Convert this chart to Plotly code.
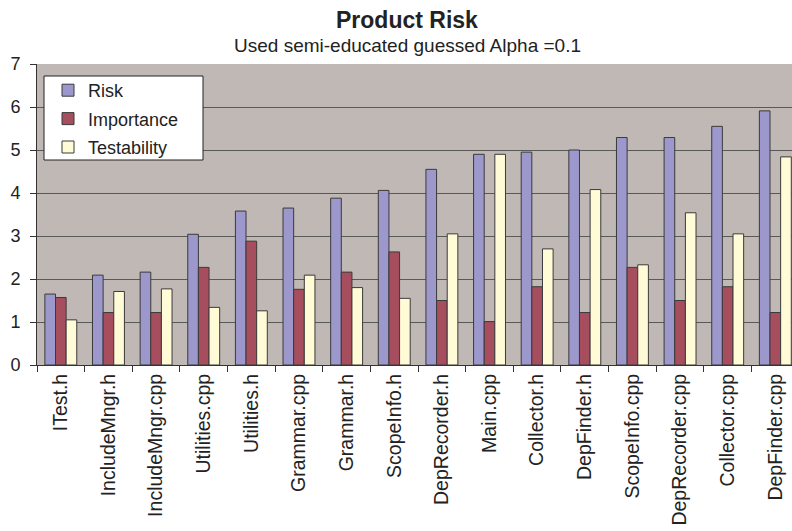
import plotly.graph_objects as go

categories = ["ITest.h", "IncludeMngr.h", "IncludeMngr.cpp", "Utilities.cpp", "Utilities.h",
              "Grammar.cpp", "Grammar.h", "ScopeInfo.h", "DepRecorder.h", "Main.cpp",
              "Collector.h", "DepFinder.h", "ScopeInfo.cpp", "DepRecorder.cpp",
              "Collector.cpp", "DepFinder.cpp"]
risk = [1.65, 2.09, 2.16, 3.04, 3.58, 3.65, 3.88, 4.06, 4.55, 4.90, 4.95, 5.00, 5.29, 5.29, 5.55, 5.91]
importance = [1.57, 1.22, 1.22, 2.27, 2.88, 1.76, 2.16, 2.63, 1.50, 1.01, 1.82, 1.22, 2.27, 1.50, 1.82, 1.22]
testability = [1.05, 1.71, 1.77, 1.34, 1.26, 2.09, 1.80, 1.55, 3.05, 4.90, 2.70, 4.08, 2.33, 3.54, 3.05, 4.84]
y_ticks = [0, 1, 2, 3, 4, 5, 6, 7]

title_text = "Product Risk"
subtitle_text = "Used semi-educated guessed Alpha =0.1"

font_family = "Liberation Sans, Arial, sans-serif"
outline = dict(color="#3a3a3a", width=1)

# plot area spans x 37..792, y 64..365 on screen (body margin removed below)
W, H = 792, 531
ML, MT = 37, 64
PLOT_W, PLOT_H = W - ML, 301
MB = H - MT - PLOT_H


def px_x(sx):
    return (sx - ML) / PLOT_W


def px_y(sy):
    return (MT + PLOT_H - sy) / PLOT_H


fig = go.Figure()
fig.add_trace(go.Bar(name="Risk", x=categories, y=risk, legendgroup="a",
                     marker=dict(color="#9C98CB", line=outline)))
fig.add_trace(go.Bar(name="Importance", x=categories, y=importance, legendgroup="b",
                     marker=dict(color="#A64E5E", line=outline)))
fig.add_trace(go.Bar(name="Testability", x=categories, y=testability, legendgroup="c",
                     marker=dict(color="#FFFBD6", line=outline)))

fig.update_layout(
    width=W, height=H,
    margin=dict(l=ML, r=0, t=MT, b=MB, autoexpand=False),
    paper_bgcolor="white",
    plot_bgcolor="#C0B8B5",
    barmode="group",
    bargap=0.33,
    bargroupgap=0,
    font=dict(family=font_family, color="#222222"),
    showlegend=True,
    legend=dict(
        x=px_x(48), y=px_y(72), xanchor="left", yanchor="top",
        bgcolor="rgba(0,0,0,0)", borderwidth=0,
        font=dict(size=18, family=font_family, color="#222222"),
        itemwidth=30, tracegroupgap=2,
    ),
    shapes=[dict(type="rect", xref="paper", yref="paper",
                 x0=px_x(44), x1=px_x(203), y0=px_y(160), y1=px_y(76),
                 fillcolor="white", line=dict(color="#222222", width=1), layer="above")],
    xaxis=dict(
        type="category",
        range=[-0.5, 15.35],
        automargin=False,
        tickangle=-90,
        tickfont=dict(size=19.5, family=font_family, color="#222222"),
        ticks="outside", ticklen=6, tickcolor="#333333", tickson="boundaries",
        showline=True, linecolor="#333333", linewidth=1,
        showgrid=False,
    ),
    yaxis=dict(
        range=[0, 7],
        automargin=False,
        tickvals=y_ticks,
        tickfont=dict(size=18, family=font_family, color="#222222"),
        ticks="outside", ticklen=6, tickcolor="#333333",
        ticklabelstandoff=6,
        showline=True, linecolor="#333333", linewidth=1,
        showgrid=True, gridcolor="#595959", gridwidth=1,
        zeroline=False,
    ),
    annotations=[
        dict(text="<b>" + title_text + "</b>", xref="paper", yref="paper",
             x=px_x(407), y=1.0, yshift=44, xanchor="center", yanchor="middle",
             showarrow=False, font=dict(size=23, family=font_family, color="#222222")),
        dict(text=subtitle_text, xref="paper", yref="paper",
             x=px_x(407), y=1.0, yshift=19, xanchor="center", yanchor="middle",
             showarrow=False, font=dict(size=19, family=font_family, color="#222222")),
    ],
)

fig.write_html("out.html",
               config={"displayModeBar": False},
               post_script="document.body.style.margin='0';document.body.style.overflow='hidden';")
